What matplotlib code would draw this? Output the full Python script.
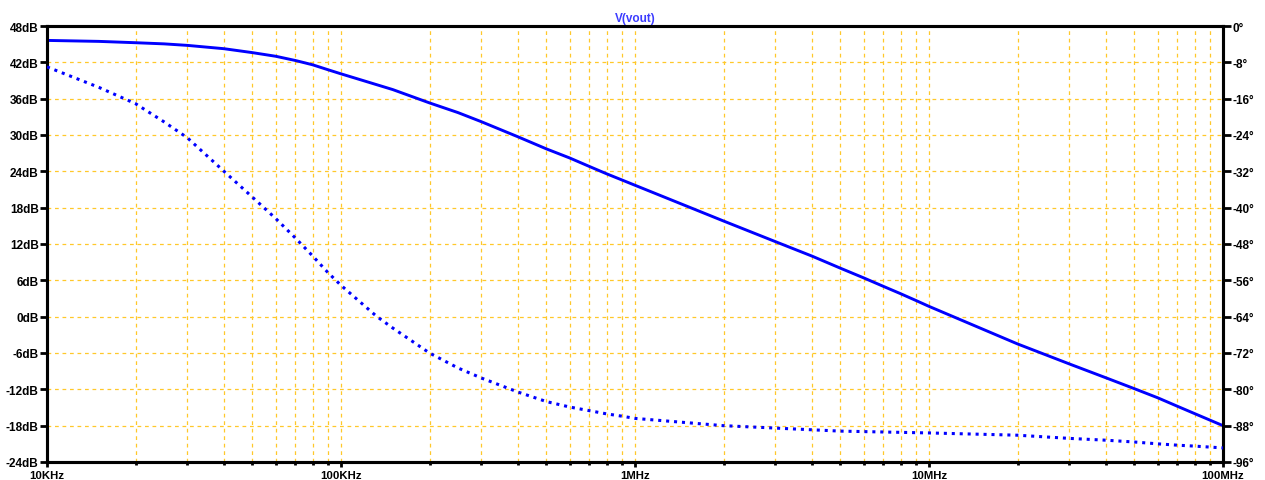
import matplotlib
matplotlib.use('Agg')
import matplotlib.pyplot as plt
from matplotlib.ticker import FixedLocator, NullFormatter

plt.rcParams['font.family'] = ['Liberation Sans', 'DejaVu Sans']

# ---- data ----
freq_mag = [10e3, 15e3, 20e3, 25e3, 30e3, 40e3, 50e3, 60e3, 70e3, 80e3, 90e3, 100e3,
            116e3, 150e3, 200e3, 250e3, 300e3, 400e3, 500e3, 600e3, 700e3, 800e3, 900e3, 1e6,
            2e6, 3e6, 4e6, 5e6, 6e6, 7e6, 8e6, 9e6, 10e6,
            20e6, 30e6, 40e6, 50e6, 60e6, 70e6, 80e6, 100e6]
mag_db = [45.62, 45.46, 45.24, 45.05, 44.8, 44.25, 43.6, 43.0, 42.3, 41.6, 40.8, 40.1,
          39.15, 37.5, 35.3, 33.7, 32.2, 29.7, 27.7, 26.2, 24.8, 23.6, 22.6, 21.7,
          15.8, 12.4, 10.0, 8.0, 6.4, 5.0, 3.8, 2.7, 1.7,
          -4.5, -7.8, -10.1, -11.9, -13.4, -14.8, -16.0, -18.0]

freq_ph = [10e3, 15e3, 20e3, 25e3, 30e3, 40e3, 50e3, 60e3, 70e3, 80e3, 90e3, 100e3,
           132e3, 150e3, 200e3, 250e3, 300e3, 400e3, 500e3, 600e3, 700e3, 800e3, 900e3, 1e6,
           2e6, 5e6, 10e6, 20e6, 30e6, 40e6, 50e6, 60e6, 70e6, 80e6, 100e6]
phase_deg = [-9.0, -13.5, -17.1, -21.1, -24.6, -32.0, -37.7, -42.4, -46.7, -50.6, -54.2, -57.1,
             -63.9, -66.5, -72.0, -75.3, -77.5, -80.6, -82.7, -83.9, -84.7, -85.4, -85.9, -86.4,
             -88.0, -89.2, -89.6, -90.1, -90.8, -91.2, -91.6, -92.0, -92.3, -92.5, -92.9]

db_ticks = [-24, -18, -12, -6, 0, 6, 12, 18, 24, 30, 36, 42, 48]
db_labels = [f"{v}dB" for v in db_ticks]
deg_ticks = [-96, -88, -80, -72, -64, -56, -48, -40, -32, -24, -16, -8, 0]
deg_labels = [f"{v}°" for v in deg_ticks]
freq_ticks = [10e3, 100e3, 1e6, 10e6, 100e6]
freq_labels = ["10KHz", "100KHz", "1MHz", "10MHz", "100MHz"]
title = "V(vout)"

# ---- figure ----
W, H = 1265, 481
fig = plt.figure(figsize=(W / 100, H / 100), dpi=100)
ax = fig.add_axes([47 / W, 18 / H, 1176 / W, 436 / H])
ax2 = ax.twinx()

line_color = '#0000FF'
grid_color = '#FFC82A'

ax.set_xscale('log')
ax.set_xlim(10e3, 100e6)
ax.set_ylim(-24, 48)
ax2.set_ylim(-96, 0)

ax.plot(freq_mag, mag_db, color=line_color, lw=2.1, solid_joinstyle='round', zorder=3)
ax2.plot(freq_ph, phase_deg, color=line_color, lw=2.2, linestyle=(0, (1, 1.6)), zorder=3)

# ticks
minor = []
for dec in [1e4, 1e5, 1e6, 1e7]:
    minor += [dec * k for k in range(2, 10)]
ax.xaxis.set_major_locator(FixedLocator(freq_ticks))
ax.xaxis.set_minor_locator(FixedLocator(minor))
ax.xaxis.set_minor_formatter(NullFormatter())
ax.set_xticklabels(freq_labels, fontsize=8.2, fontweight='bold')
ax.set_yticks(db_ticks)
ax.set_yticklabels(db_labels, fontsize=8.5, fontweight='bold')
ax2.set_yticks(deg_ticks)
ax2.set_yticklabels(deg_labels, fontsize=8.5, fontweight='bold')

ax.tick_params(axis='x', which='major', direction='out', length=3.5, width=2, pad=2.4, color='black')
ax.tick_params(axis='x', which='minor', direction='out', length=2, width=2, color='black')
ax.tick_params(axis='y', which='major', direction='out', length=5, width=2, pad=1, color='black')
ax2.tick_params(axis='y', which='major', direction='out', length=6, width=2, pad=1, color='black')

# grid
ax.grid(True, which='both', axis='x', color=grid_color, lw=0.9, linestyle=(0, (3, 3)))
ax.grid(True, which='major', axis='y', color=grid_color, lw=0.9, linestyle=(0, (3, 3)))
ax.set_axisbelow(True)

for a in (ax, ax2):
    for s in a.spines.values():
        s.set_linewidth(2.2)
        s.set_color('black')

fig.text(635.5 / W, 1 - 19 / H, title, ha='center', va='center', fontsize=8.5,
         fontweight='bold', color='#3C3CFF')

fig.savefig('out.png', dpi=100)
